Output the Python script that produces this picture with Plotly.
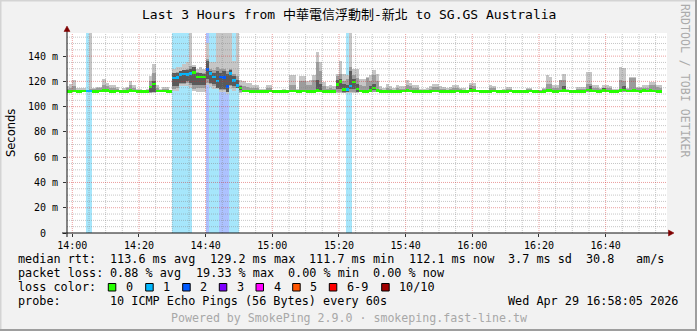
import plotly.graph_objects as go

N = None
# minute slots relative to 14:00 (slot j covers 14:00+j .. 14:00+j+1 min)
minutes = list(range(-2, 177))

median_ms = [
    112.2, 112.2, 112.4, 112.2, 112.2, 112.4, 112.5, 112.5, 112.2, 112.2,
    112.4, 112.6, 112.6, 112.2, 112.2, 112.4, 112.0, 112.0, 112.2, 112.6,
    112.4, 112.2, 112.2, 112.0, 112.2, 115.5, 118.0, 112.3, 112.3, 112.4,
    112.2, 112.0, 122.8, 123.3, 125.4, 125.8, 125.6, 126.0, 126.8, 123.6,
    123.6, 123.4, 129.2, 126.2, 123.4, 120.2, 123.6, 123.2, 115.8, 126.4,
    120.6, 116.8, 114.8, 112.4, 112.3, 112.2, 112.2, 112.0, 112.2, 112.2,
    112.2, 112.4, 112.2, 112.0, 112.0, 112.2, 112.2, 112.4, 112.4, 112.2,
    112.2, 112.4, 112.2, 112.0, 112.2, 112.6, 112.4, 112.2, 112.0, 112.0,
    112.2, 117.6, 120.0, 113.6, 113.8, 116.4, 119.4, 114.0, 112.4, 112.2,
    112.2, 112.8, 114.8, 112.8, 112.2, 112.2, 112.2, 112.0, 112.0, 112.2,
    112.2, 112.4, 112.6, 112.4, 112.2, 112.0, 111.8, 111.8, 112.0, 112.2,
    112.4, 112.4, 112.2, 112.2, 112.0, 112.2, 112.2, 112.4, 112.2, 112.0,
    112.0, 112.8, 113.0, 112.4, 112.2, 112.2, 112.0, 112.2, 112.4, 112.2,
    112.0, 112.0, 112.2, 112.4, 112.2, 112.2, 112.0, 112.0, 112.2, 112.4,
    112.2, 112.0, 111.7, 112.2, 112.6, 112.6, 112.2, 112.0, 112.4, 113.0,
    112.4, 112.2, 112.2, 112.0, 112.2, 112.2, 113.2, 113.0, 112.4, 112.2,
    112.2, 112.6, 112.4, 112.2, 112.2, 112.0, 112.6, 113.2, 112.4, 112.4,
    112.8, 112.4, 112.2, 112.6, 112.4, 112.8, 112.4, 112.2, 112.1,
]

loss_count = [
    0, 0, 0, 0, 0, 0, 1, 1, 0, 0,
    0, 0, 0, 0, 0, 0, 0, 0, 0, 0,
    0, 0, 0, 0, 0, 0, 0, 0, 0, 0,
    0, 0, 1, 1, 1, 1, 1, 1, 0, 0,
    0, 0, 2, 1, 1, 1, 2, 2, 2, 1,
    1, 1, 0, 0, 0, 0, 0, 0, 0, 0,
    0, 0, 0, 0, 0, 0, 0, 0, 0, 0,
    0, 0, 0, 0, 0, 0, 0, 0, 0, 0,
    0, 0, 0, 0, 1, 1, 0, 0, 0, 0,
    0, 0, 0, 0, 0, 0, 0, 0, 0, 0,
    0, 0, 0, 0, 0, 0, 0, 0, 0, 0,
    0, 0, 0, 0, 0, 0, 0, 0, 0, 0,
    0, 0, 0, 0, 0, 0, 0, 0, 0, 0,
    0, 0, 0, 0, 0, 0, 0, 0, 0, 0,
    0, 0, 0, 0, 0, 0, 0, 0, 0, 0,
    0, 0, 0, 0, 0, 0, 0, 0, 0, 0,
    0, 0, 0, 0, 0, 0, 0, 0, 0, 0,
    0, 0, 0, 0, 0, 0, 0, 0, 0,
]

ping_max = [
    116, 118, 121, 114.5, 114.5, 114.5, 113.5, 200, 115, 115.6,
    115.6, 121.5, 119, 117, 117, 115.6, 113.5, 114.5, 115.6, 120,
    117.5, 114, 114, 113.2, 114, 124, 134, 117, 114, 115.6,
    115.6, 113.5, 130, 131, 131.5, 134, 135, 200, 133, 130,
    131, 130, 150, 135, 135, 200, 200, 200, 200, 200,
    136, 200, 121, 120, 119, 118.5, 117.5, 117.5, 114, 114,
    117, 117, 113.5, 113.5, 113.5, 114, 113.5, 125, 125, 114,
    124.5, 124.5, 120.5, 121, 125, 143, 135.4, 119.5, 116, 117.5,
    116, 126, 136, 126, 125, 200, 130, 130, 122, 122,
    123.6, 125, 129, 125.7, 116, 115, 118.3, 116, 115, 117,
    116, 116, 121, 119, 117, 117, 114, 114, 115, 116,
    118, 118, 116, 115.5, 115, 115.5, 117, 117, 115, 115,
    113.5, 118.8, 118.8, 113.5, 113.5, 113.5, 113.5, 117, 116, 113.5,
    113.5, 114, 115.6, 115.6, 113.5, 113.5, 113.5, 113.5, 115, 115,
    113.5, 113.5, 113.5, 115, 125.4, 123.6, 117, 117, 121, 126.2,
    114, 113.5, 113.5, 115.6, 115.6, 115.5, 127.5, 127.5, 117, 117,
    115, 117, 117, 116, 114, 114, 131.5, 130.5, 115, 123.6,
    123.6, 115.6, 115.6, 117, 117, 119.6, 119.6, 117, 117,
]

mid_hi = [
    114, 115, 116, 113.5, 113.5, 113.5, 113.5, 114, 113.8, 114.5,
    114.5, 117, 116, 115, 115, 114, 113.3, 113.5, 114.5, 117,
    115, 113.5, 113.5, 113, 113.5, 120, 127, 114.5, 113.5, 114,
    114, 113, 127, 127.5, 128, 129, 130, 132, 130, 127.5,
    127, 127, 138, 130, 129, 131, 130, 130, 128, 130,
    126, 124, 117, 116, 115.5, 115, 114.5, 114.5, 113.3, 113.3,
    115, 115, 113.2, 113.2, 113.2, 113.5, 113.2, 117, 117, 113.5,
    120, 120, 117, 117.5, 121, 135, 128, 116, 114, 114.5,
    114, 124, 126, 120, 122, 131, 125, 123, 117, 116,
    123, 120, 125, 120, 114, 113.5, 115, 114, 113.5, 115,
    114, 114, 117, 116.5, 115, 114.5, 113, 113, 113.5, 114,
    115.5, 115.5, 114, 114, 113.5, 114, 115, 115, 114, 113.5,
    113, 117, 116.5, 113, 113, 113, 113, 115, 114.5, 113,
    113, 113.5, 114, 114, 113, 113, 113, 113, 114, 114,
    113, 113, 113, 114, 118, 118, 115, 115, 121, 121,
    113.5, 113, 113, 114, 114, 114, 118.3, 118.3, 115, 115,
    114, 115, 115, 114.5, 113.5, 113.5, 121, 120, 114, 123,
    123, 114.5, 114.5, 115, 115, 117, 117, 115.5, 115,
]

mid_lo = [
    111.6, 111.6, 111.6, 111.6, 111.6, 111.6, 111.6, 111.6, 111.6, 111.6,
    111.6, 111.6, 111.6, 111.6, 111.6, 111.6, 111.6, 111.6, 111.6, 111.6,
    111.6, 111.6, 111.6, 111.6, 111.6, 111.0, 111.5, 111.6, 111.6, 111.6,
    111.6, 111.6, 114.0, 115.0, 118.0, 118.0, 119.0, 117.0, 114.0, 114.5,
    115.0, 115.0, 119.0, 118.0, 116.0, 115.0, 113.0, 113.0, 111.5, 116.0,
    114.5, 115.5, 112.0, 111.6, 111.6, 111.6, 111.6, 111.6, 111.6, 111.6,
    111.6, 111.6, 111.6, 111.6, 111.6, 111.6, 111.6, 111.6, 111.6, 111.6,
    111.6, 111.6, 111.6, 111.6, 111.6, 111.6, 111.6, 111.6, 111.6, 111.6,
    111.6, 112.0, 112.0, 111.0, 111.5, 112.0, 112.0, 111.6, 111.6, 111.6,
    111.6, 111.6, 111.6, 111.6, 111.6, 111.6, 111.6, 111.6, 111.6, 111.6,
    111.6, 111.6, 111.6, 111.6, 111.6, 111.6, 111.4, 111.4, 111.6, 111.6,
    111.6, 111.6, 111.6, 111.6, 111.6, 111.6, 111.6, 111.6, 111.6, 111.6,
    111.6, 111.6, 111.6, 111.6, 111.6, 111.6, 111.6, 111.6, 111.6, 111.6,
    111.6, 111.6, 111.6, 111.6, 111.6, 111.6, 111.6, 111.6, 111.6, 111.6,
    111.6, 111.6, 111.3, 111.6, 111.6, 111.6, 111.6, 111.6, 111.6, 111.6,
    111.6, 111.6, 111.6, 111.6, 111.6, 111.6, 111.6, 111.6, 111.6, 111.6,
    111.6, 111.6, 111.6, 111.6, 111.6, 111.6, 111.6, 111.6, 111.6, 111.6,
    111.6, 111.6, 111.6, 111.6, 111.6, 111.6, 111.6, 111.6, 111.6,
]

ping_min = [
    111.4, 111.4, 111.4, 111.4, 111.4, 111.4, 111.4, 111.4, 111.4, 111.4,
    111.4, 111.4, 111.4, 111.4, 111.4, 111.4, 111.4, 111.4, 111.4, 111.4,
    111.4, 111.4, 111.4, 111.4, 111.4, 110.5, 110.5, 111.4, 111.4, 111.4,
    111.4, 111.4, 112.5, 112.5, 116.0, 116.0, 116.0, 114.4, 112.6, 111.7,
    111.7, 111.7, 117.0, 115.7, 113.6, 113.6, 111.7, 111.7, 110.4, 113.6,
    112.6, 114.4, 111.0, 111.4, 111.4, 111.4, 111.4, 111.4, 111.4, 111.4,
    111.4, 111.4, 111.4, 111.4, 111.4, 111.4, 111.4, 111.4, 111.4, 111.4,
    111.4, 111.4, 111.4, 111.4, 111.4, 111.4, 111.4, 111.4, 111.4, 111.4,
    111.4, 111.0, 111.0, 110.5, 110.8, 110.5, 111.0, 111.0, 111.4, 111.4,
    111.4, 111.4, 111.4, 111.4, 111.4, 111.4, 111.4, 111.4, 111.4, 111.4,
    111.4, 111.4, 111.4, 111.4, 111.4, 111.4, 111.2, 111.2, 111.4, 111.4,
    111.4, 111.4, 111.4, 111.4, 111.4, 111.4, 111.4, 111.4, 111.4, 111.4,
    111.4, 111.4, 111.4, 111.4, 111.4, 111.4, 111.4, 111.4, 111.4, 111.4,
    111.4, 111.4, 111.4, 111.4, 111.4, 111.4, 111.4, 111.4, 111.4, 111.4,
    111.4, 111.4, 111.2, 111.4, 111.4, 111.4, 111.4, 111.4, 111.4, 111.4,
    111.4, 111.4, 111.4, 111.4, 111.4, 111.4, 111.4, 111.4, 111.4, 111.4,
    111.4, 111.4, 111.4, 111.4, 111.4, 111.4, 111.4, 111.4, 111.4, 111.4,
    111.4, 111.4, 111.4, 111.4, 111.4, 111.4, 111.4, 111.4, 111.4,
]

core_lo = [
    N, N, N, N, N, N, N, N, N, N,
    N, N, N, N, N, N, N, N, N, N,
    N, N, N, N, N, 111.6, 112, N, N, N,
    N, N, 116, 116, 119, 119, 120, 119, 117, 117,
    117, 117, 122, 119, 118, 115, 114, 114, 112, 117,
    116, 115, 113, N, N, N, N, N, N, N,
    N, N, N, N, N, N, N, N, N, N,
    N, N, N, N, N, 114, 113, N, N, N,
    N, 114, 114, 112, 112, 114, 114, 112, N, N,
    N, 112.5, 113, N, N, N, N, N, N, N,
    N, N, N, N, N, N, N, N, N, N,
    N, N, N, N, N, N, N, N, N, N,
    N, 112.5, N, N, N, N, N, N, N, N,
    N, N, N, N, N, N, N, N, N, N,
    N, N, N, N, N, N, N, N, N, 112.5,
    N, N, N, N, N, N, N, 113, N, N,
    N, 112.5, N, N, N, N, N, 113, N, N,
    N, N, N, N, N, N, N, N, N,
]

core_hi = [
    N, N, N, N, N, N, N, N, N, N,
    N, N, N, N, N, N, N, N, N, N,
    N, N, N, N, N, 116, 120, N, N, N,
    N, N, 127, 127, 128, 129, 129, 130, 131, 127,
    127, 126, 136, 128, 127, 128, 127, 128, 126, 129,
    124, 121, 116, N, N, N, N, N, N, N,
    N, N, N, N, N, N, N, N, N, N,
    N, N, N, N, N, 121, 118, N, N, N,
    N, 121, 122, 118, 117, 128, 122, 118, N, N,
    N, 116, 118, N, N, N, N, N, N, N,
    N, N, N, N, N, N, N, N, N, N,
    N, N, N, N, N, N, N, N, N, N,
    N, 115, N, N, N, N, N, N, N, N,
    N, N, N, N, N, N, N, N, N, N,
    N, N, N, N, N, N, N, N, N, 116,
    N, N, N, N, N, N, N, 116, N, N,
    N, 115, N, N, N, N, N, 116, N, N,
    N, N, N, N, N, N, N, N, N,
]

tick_minutes = [0, 20, 40, 60, 80, 100, 120, 140, 160]
tick_labels = ["14:00", "14:20", "14:40", "15:00", "15:20", "15:40", "16:00", "16:20", "16:40"]
y_ticks = [0, 20, 40, 60, 80, 100, 120, 140]
y_labels = ["0\u00a0\u00a0", "20 m", "40 m", "60 m", "80 m", "100 m", "120 m", "140 m"]

loss_names = ["0", "1", "2", "3", "4", "5", "6-9", "10/10"]
loss_palette = ["#26ff00", "#00b8ff", "#0059ff", "#7e00ff", "#ff00ff", "#ff5500", "#ff0000", "#a00000"]
loss_bg = {1: "#a6e6fb", 2: "#adc2ff"}

# legend rows: (character column, text)
row_rtt = [(0, "median rtt:"), (13, "113.6 ms avg"), (27, "129.2 ms max"), (41, "111.7 ms min"),
           (55, "112.1 ms now"), (69, "3.7 ms sd"), (80, "30.8"), (87, "am/s")]
row_loss = [(0, "packet loss:"), (13, "0.88 % avg"), (25, "19.33 % max"), (38, "0.00 % min"),
            (50, "0.00 % now")]
row_probe = [(0, "probe:"), (13, "10 ICMP Echo Pings (56 Bytes) every 60s")]

# ---------------- geometry ----------------
W, H = 697, 331
PL, PR, PT, PB = 67, 667, 33, 233
Y_TOP = 158.3
X_RANGE = [-1.59, 178.41]
MONO = "DejaVu Sans Mono, Noto Sans CJK TC, monospace"
CHAR_W = 7.1
TXT_X0 = 16


def px(x):
    return (x - PL) / (PR - PL)


def py(y):
    return (PB - y) / (PB - PT)


xc = [m + 0.5 for m in minutes]

fig = go.Figure()

# loss background
fig.add_trace(go.Bar(
    x=xc, base=[0] * len(xc),
    y=[Y_TOP if l > 0 else None for l in loss_count],
    marker=dict(color=[loss_bg.get(l, "#ffffff") for l in loss_count], line=dict(width=0)),
    width=1, hoverinfo="skip", showlegend=False))

# smoke layers
for lo, hi, col in [(ping_min, ping_max, "#c6c6c6"), (mid_lo, mid_hi, "#9c9c9c"), (core_lo, core_hi, "#5a5a5a")]:
    fig.add_trace(go.Bar(
        x=xc,
        base=lo,
        y=[(h - l) if (h is not None and l is not None) else None for l, h in zip(lo, hi)],
        marker=dict(color=col, line=dict(width=0)),
        width=1, hoverinfo="skip", showlegend=False))

# median band coloured by loss
fig.add_trace(go.Bar(
    x=xc, base=[m - 1.05 for m in median_ms], y=[2.1] * len(median_ms),
    marker=dict(color=[loss_palette[min(l, 7)] for l in loss_count], line=dict(width=0)),
    width=1, hoverinfo="skip", showlegend=False))

shapes = []
minor_col = "rgba(130,130,130,0.45)"
major_col = "rgba(210,40,40,0.45)"
for m in range(5, 180, 5):
    if X_RANGE[0] < m < X_RANGE[1]:
        shapes.append(dict(type="line", xref="x", yref="paper", x0=m, x1=m, y0=0, y1=1,
                           line=dict(color=major_col if m % 20 == 0 else minor_col, width=1, dash="1px,1px"),
                           layer="above"))
shapes.append(dict(type="line", xref="x", yref="paper", x0=0, x1=0, y0=0, y1=1,
                   line=dict(color=major_col, width=1, dash="1px,1px"), layer="above"))
for v in range(5, 160, 5):
    shapes.append(dict(type="line", xref="paper", yref="y", x0=0, x1=1, y0=v, y1=v,
                       line=dict(color=major_col if v % 20 == 0 else minor_col, width=1, dash="1px,1px"),
                       layer="above"))

# axis lines and arrows
shapes.append(dict(type="line", xref="paper", yref="paper", x0=px(62), x1=px(669), y0=py(233), y1=py(233),
                   line=dict(color="#111111", width=1), layer="above"))
shapes.append(dict(type="line", xref="paper", yref="paper", x0=px(67), x1=px(67), y0=py(237), y1=py(30),
                   line=dict(color="#111111", width=1), layer="above"))
arrow = "#7f0000"
shapes.append(dict(type="path", xref="paper", yref="paper",
                   path=f"M {px(67)},{py(26)} L {px(64)},{py(31.5)} L {px(70)},{py(31.5)} Z",
                   fillcolor=arrow, line=dict(color=arrow, width=0.5), layer="above"))
shapes.append(dict(type="path", xref="paper", yref="paper",
                   path=f"M {px(674)},{py(233)} L {px(668.5)},{py(230)} L {px(668.5)},{py(236)} Z",
                   fillcolor=arrow, line=dict(color=arrow, width=0.5), layer="above"))

# frame shading
shapes.append(dict(type="rect", xref="paper", yref="paper", x0=px(695), x1=px(697), y0=py(0), y1=py(331),
                   fillcolor="#9e9e9e", line=dict(width=0)))
shapes.append(dict(type="rect", xref="paper", yref="paper", x0=px(0), x1=px(697), y0=py(329), y1=py(331),
                   fillcolor="#9e9e9e", line=dict(width=0)))
shapes.append(dict(type="rect", xref="paper", yref="paper", x0=px(0), x1=px(695), y0=py(0), y1=py(1.5),
                   fillcolor="#d4d4d4", line=dict(width=0)))
shapes.append(dict(type="rect", xref="paper", yref="paper", x0=px(0), x1=px(1.5), y0=py(0), y1=py(329),
                   fillcolor="#d4d4d4", line=dict(width=0)))

annotations = []


def text(x, y, s, anchor="left", color="#000000", size=11.8, family=MONO, angle=0):
    annotations.append(dict(x=px(x), y=py(y), xref="paper", yref="paper", text=s, showarrow=False,
                            xanchor=anchor, yanchor="middle", textangle=angle,
                            font=dict(family=family, size=size, color=color)))


text(348.5, 15, "Last 3 Hours from 中華電信浮動制-新北 to SG.GS Australia", anchor="center", size=13)
text(11, 133, "Seconds", anchor="center", size=11.5, family="DejaVu Sans, sans-serif", angle=-90)
text(685, 81, "RRDTOOL / TOBI OETIKER", anchor="center", color="#ababab", size=11.6, angle=90)

for row, yy in [(row_rtt, 259.3), (row_loss, 273.3), (row_probe, 301.3)]:
    for col, s in row:
        text(TXT_X0 + CHAR_W * col, yy, s)

text(TXT_X0, 287.3, "loss color:")
box_x = [108.3, 145.7, 182.7, 219.3, 256, 292.7, 329.3, 381.7]
for bx, name, col in zip(box_x, loss_names, loss_palette):
    shapes.append(dict(type="rect", xref="paper", yref="paper", x0=px(bx), x1=px(bx + 7.5),
                       y0=py(283.5), y1=py(291), fillcolor=col, line=dict(color="#000000", width=1)))
    text(bx + 15.5, 287.3, name)
text(680, 301.3, "Wed Apr 29 16:58:05 2026", anchor="right")
text(348.7, 318, "Powered by SmokePing 2.9.0 \u00b7 smokeping.fast-line.tw", anchor="center", color="#a8a8a8",
     size=11.6)

fig.update_layout(
    width=W, height=H,
    margin=dict(l=PL, r=W - PR, t=PT, b=H - PB, pad=0, autoexpand=False),
    paper_bgcolor="#f2f2f2", plot_bgcolor="#ffffff",
    barmode="overlay", bargap=0,
    shapes=shapes, annotations=annotations,
    xaxis=dict(range=X_RANGE, tickvals=tick_minutes, ticktext=tick_labels, showgrid=False, zeroline=False,
               showline=False, ticks="outside", ticklen=3, tickcolor="#333333",
               tickfont=dict(family=MONO, size=10, color="#000000"), fixedrange=True),
    yaxis=dict(range=[0, Y_TOP], tickvals=y_ticks, ticktext=y_labels, showgrid=False, zeroline=False,
               showline=False, ticks="outside", ticklen=3, tickcolor="#333333", ticklabelstandoff=3,
               tickfont=dict(family=MONO, size=10, color="#000000"), fixedrange=True),
    font=dict(family=MONO),
)

fig.write_html("out.html", config={"displayModeBar": False, "staticPlot": True})
